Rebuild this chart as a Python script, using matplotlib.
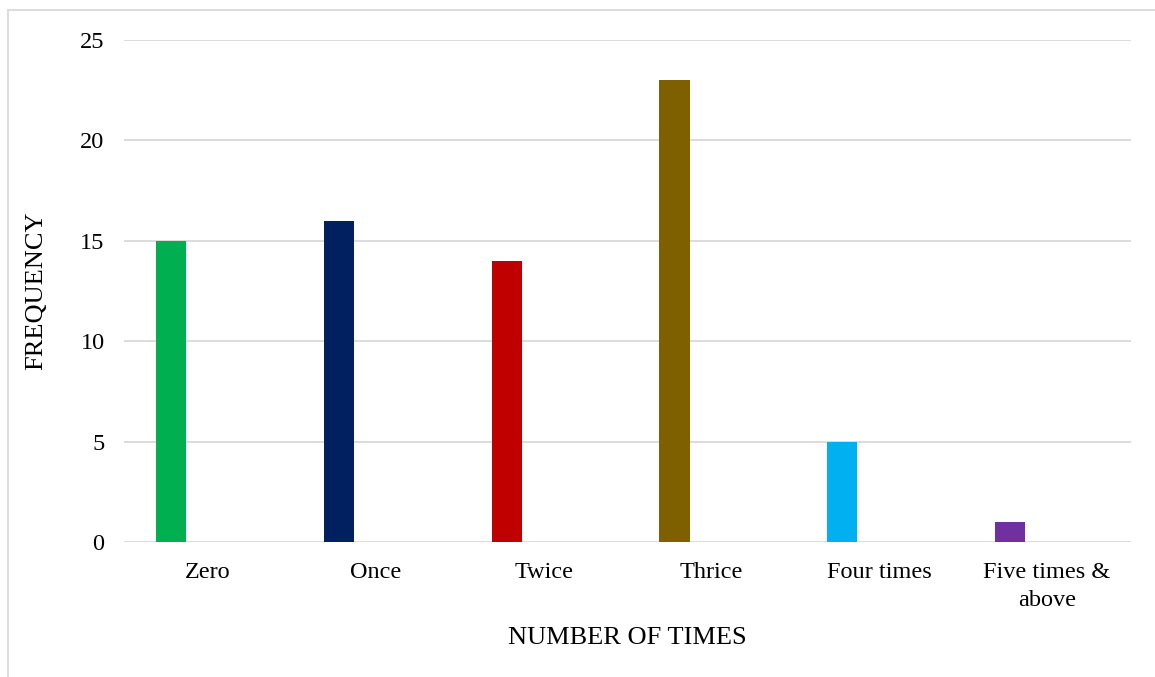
import matplotlib
matplotlib.use("Agg")
import matplotlib.pyplot as plt
from matplotlib.lines import Line2D

categories = ["Zero", "Once", "Twice", "Thrice", "Four times", "Five times &\nabove"]
values = [15, 16, 14, 23, 5, 1]
colors = ["#00B050", "#002060", "#C00000", "#7F6000", "#00B0F0", "#7030A0"]
yticks = [0, 5, 10, 15, 20, 25]

plt.rcParams['font.family'] = ['Liberation Serif', 'DejaVu Serif']

W, H = 1155, 677
fig = plt.figure(figsize=(W / 100, H / 100), dpi=100)
ax = fig.add_axes([124 / W, 1 - 542 / H, (1131 - 124) / W, (542 - 40) / H])

x = list(range(len(categories)))
ax.bar([i - 0.22 for i in x], values, width=0.179, color=colors, zorder=3)

FS = 17.5
ax.set_xlim(-0.5, len(categories) - 0.5)
ax.set_ylim(0, 25)
ax.set_yticks(yticks)
ax.set_xticks(x)
ax.set_xticklabels(categories, fontsize=FS, linespacing=1.45)
ax.tick_params(axis='y', labelsize=FS, length=0, pad=14)
ax.tick_params(axis='x', length=0, pad=14.5)
ax.grid(axis='y', color='#D9D9D9', linewidth=1.3, zorder=0)
for s in ax.spines.values():
    s.set_visible(False)

ax.set_xlabel("NUMBER OF TIMES", fontsize=19, labelpad=11)
ax.set_ylabel("FREQUENCY", fontsize=19, labelpad=24)

# outer border (top and left)
fig.add_artist(Line2D([8 / W, 1], [1 - 10 / H, 1 - 10 / H], color='#D9D9D9', linewidth=1.3, transform=fig.transFigure))
fig.add_artist(Line2D([8 / W, 8 / W], [0, 1 - 10 / H], color='#D9D9D9', linewidth=1.3, transform=fig.transFigure))

fig.savefig("out.png", dpi=100)
